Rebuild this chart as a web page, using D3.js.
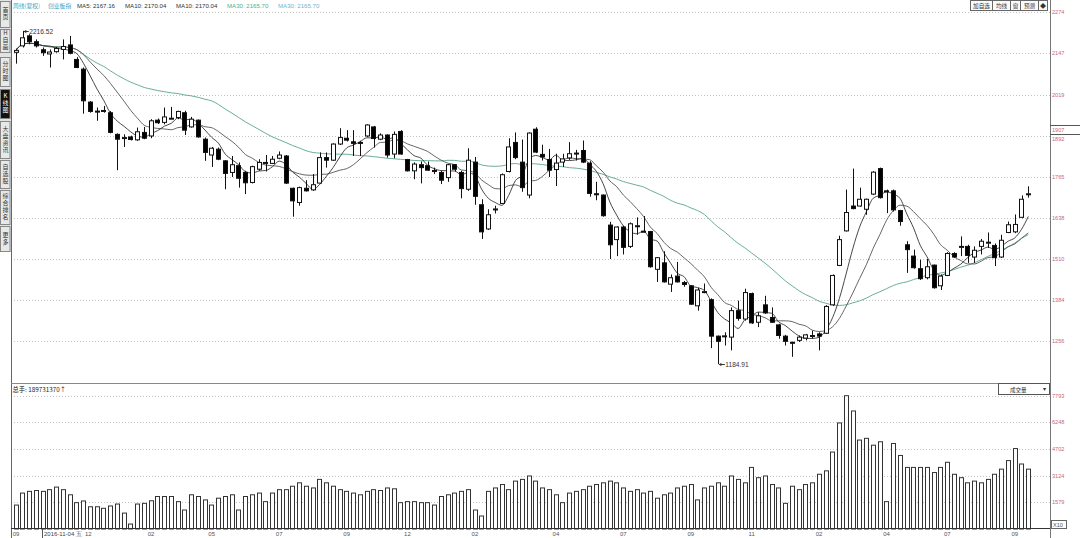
<!DOCTYPE html>
<html><head><meta charset="utf-8">
<script src="https://cdn.jsdelivr.net/npm/d3@7"></script>
<style>body{margin:0;background:#fff;overflow:hidden}svg{display:block}</style>
</head><body>
<svg id="c" width="1080" height="538"></svg>
<script>
const opens  = [2150,2170,2201,2183,2158,2145,2152,2159,2173,2128,2098,1996,1968,1968,1963,1896,1886,1888,1879,1902,1891,1940,1933,1945,1948,1963,1919,1940,1881,1832,1850,1814,1778,1799,1778,1747,1788,1807,1806,1822,1829,1729,1685,1729,1724,1745,1824,1816,1866,1884,1873,1871,1891,1919,1881,1894,1835,1905,1818,1783,1802,1799,1784,1778,1762,1802,1778,1726,1810,1678,1603,1663,1682,1781,1871,1810,1708,1912,1834,1818,1787,1810,1823,1837,1846,1807,1712,1708,1615,1570,1609,1549,1612,1596,1595,1478,1498,1432,1457,1437,1427,1365,1408,1384,1271,1270,1268,1350,1324,1403,1314,1368,1329,1306,1271,1252,1258,1265,1273,1278,1280,1368,1490,1597,1674,1674,1664,1711,1790,1721,1721,1660,1554,1519,1480,1452,1491,1427,1459,1527,1549,1549,1516,1549,1561,1552,1516,1592,1594,1639,1709];
const highs  = [2162,2216.52,2206,2190,2165,2159,2167,2190,2201,2135,2103,1999,1979,1984,1968,1899,1896,1892,1917,1919,1943,1945,1979,1981,1969,1969,1950,1942,1886,1857,1855,1816,1829,1809,1783,1799,1819,1832,1829,1843,1832,1731,1734,1754,1773,1840,1840,1868,1915,1909,1909,1876,1927,1922,1899,1896,1905,1909,1820,1809,1812,1812,1793,1783,1804,1804,1783,1853,1826,1695,1664,1675,1775,1884,1902,1880,1902,1918,1864,1851,1836,1836,1872,1848,1877,1813,1749,1710,1625,1611,1613,1623,1639,1643,1597,1516,1534,1462,1501,1442,1429,1421,1434,1388,1273,1283,1360,1381,1418,1406,1345,1396,1360,1309,1275,1254,1273,1278,1288,1283,1367,1462,1582,1725,1790,1731,1697,1782,1793,1725,1725,1662,1565,1539,1508,1510,1493,1462,1531,1531,1580,1554,1549,1572,1592,1558,1585,1626,1648,1707,1735];
const lows   = [2115,2165,2175,2165,2139,2103,2149,2128,2144,2101,1960,1963,1938,1963,1899,1785,1857,1877,1876,1881,1884,1928,1927,1943,1943,1894,1917,1886,1814,1795,1816,1726,1764,1731,1711,1744,1783,1781,1804,1819,1742,1641,1675,1719,1721,1742,1793,1814,1863,1874,1829,1829,1888,1855,1878,1824,1822,1833,1781,1757,1744,1783,1773,1742,1749,1781,1698,1721,1678,1572,1600,1651,1680,1778,1819,1718,1698,1838,1815,1764,1736,1795,1817,1815,1807,1703,1692,1641,1510,1519,1524,1544,1585,1593,1483,1439,1437,1408,1437,1424,1368,1350,1404,1234,1184.91,1242,1227,1319,1319,1309,1299,1340,1312,1263,1242,1207,1253,1258,1263,1227,1278,1365,1488,1595,1664,1672,1647,1708,1697,1652,1657,1613,1467,1480,1445,1447,1418,1414,1457,1513,1519,1498,1498,1524,1544,1488,1513,1590,1590,1636,1700];
const closes = [2156,2195,2183,2170,2149,2151,2162,2168,2147,2103,2000,1967,1966,1970,1902,1881,1886,1880,1904,1884,1938,1932,1950,1946,1967,1909,1943,1888,1840,1853,1819,1775,1802,1760,1746,1796,1809,1809,1819,1832,1745,1690,1731,1721,1740,1824,1816,1866,1886,1878,1868,1870,1925,1883,1894,1832,1896,1835,1783,1804,1793,1785,1783,1754,1802,1788,1728,1816,1704,1594,1647,1665,1771,1857,1824,1731,1900,1841,1826,1785,1807,1820,1836,1838,1810,1713,1710,1644,1554,1609,1546,1619,1613,1595,1486,1514,1439,1452,1439,1431,1370,1414,1409,1271,1255,1272,1350,1326,1406,1312,1334,1343,1314,1273,1255,1249,1268,1275,1273,1271,1363,1459,1570,1654,1666,1695,1695,1779,1700,1720,1662,1626,1539,1483,1449,1486,1421,1457,1527,1516,1549,1521,1537,1565,1562,1514,1568,1616,1617,1695,1712];
const volumes = [1400,2100,2200,2250,2200,2300,2450,2300,2000,1540,1640,1300,1300,1210,1345,1460,930,290,1460,1500,1650,1900,1900,1900,1600,1110,2000,1900,1700,1400,1800,1900,2000,1110,1900,2000,2100,1600,2100,2300,2300,2500,2700,2500,2400,2900,2700,2500,2300,2200,2100,2000,2200,2300,2250,2400,2350,1540,1600,1600,1540,1540,1400,1900,2000,2100,2200,2300,1110,760,2200,2400,2600,2300,2800,2900,3100,2800,2400,2300,2000,1540,2100,2200,2300,2500,2600,2700,2800,2700,2400,2200,2300,2100,2200,1800,2000,2100,2400,2500,2600,1700,2400,2500,2700,2500,3100,2900,2700,3600,3000,3100,2600,2400,1500,2500,2300,2600,2700,3200,3400,4500,6200,7793,6900,5200,5300,4900,5100,1600,5000,4300,3600,3600,3600,3600,3300,3600,3900,3200,3000,2700,2800,2700,2900,3200,3500,4000,4702,3800,3500];

const priceTicks = [2274,2147,2019,1892,1765,1638,1510,1384,1256];
const volTicks = [7793,6248,4702,3124,1579];
const monthTickIdx = [0,10,20,29,39,49,58,68,80,90,100,109,119,129,138,148];
const monthTickLabels = ["09","12","02","05","07","09","12","02","04","07","09","11","02","04","07","09"];
const sideTabs = ["首页","H自画","分时图","K线图","大盘资讯","自选股","综合排名","更多"];
const headerTexts = ["周线(复权)","创业板指","MA5: 2167.16","MA10: 2170.04","MA10: 2170.04","MA30: 2165.70","MA30: 2165.70"];
const topButtons = ["加自选","均线","窗","预测","◆"];

// layout / style (kept apart from data)
const headerX = [13,48,77,125,176,227,278];
const headerC = ["#3a9fc6","#3a9fc6","#333","#333","#333","#4fae8c","#6ab6d2"];
const tabY = [[1,27],[29,52],[57,86],[89,118],[121,158],[160,188],[190,224],[226,251]];
const btnW = [22,18,10,18,9];

const svg = d3.select("#c");
const W = 1080, H = 538, L = 11, R = 1050;
const x = d3.scaleLinear().domain([0, closes.length-1]).range([16, 1028.3]);
const y = d3.scaleLinear().domain([1256, 2274]).range([341, 12.3]);
const vy = d3.scaleLinear().domain([0, 7793]).range([529, 395.7]);
const fNum = "'Liberation Sans', Arial, sans-serif";
const fCJK = "'Noto Sans CJK SC', sans-serif";
const bw = 4.6;
const axisRed = "#c8687e";

// gridlines
svg.append("g").selectAll("line").data(priceTicks).join("line")
  .attr("x1", L).attr("x2", R).attr("y1", d=>Math.round(y(d))+0.5).attr("y2", d=>Math.round(y(d))+0.5)
  .attr("stroke", "#c4c4c4").attr("stroke-dasharray", "1 2");
svg.append("g").selectAll("line").data(volTicks).join("line")
  .attr("x1", L).attr("x2", R).attr("y1", d=>Math.round(vy(d))+0.5).attr("y2", d=>Math.round(vy(d))+0.5)
  .attr("stroke", "#c4c4c4").attr("stroke-dasharray", "1 2");

// moving averages
const idx = d3.range(closes.length);
function ma(n){ return idx.map(i => d3.mean(closes.slice(Math.max(0,i-n+1), i+1))); }
const maSpecs = [{n:30,c:"#6aae98",w:1},{n:10,c:"#555",w:0.9},{n:5,c:"#333",w:0.9}];
const lineGen = d3.line().x((d,i)=>x(i)).y(d=>y(d)).curve(d3.curveMonotoneX);
maSpecs.forEach(s=>{
  svg.append("path").datum(ma(s.n)).attr("d", lineGen).attr("fill","none")
    .attr("stroke", s.c).attr("stroke-width", s.w);
});

// candles
const cg = svg.append("g");
idx.forEach(i=>{
  const o=opens[i], c=closes[i], h=highs[i], l=lows[i];
  const up = c >= o;
  const cx = Math.round(x(i)) + 0.5;
  cg.append("line").attr("x1",cx).attr("x2",cx).attr("y1",y(h)).attr("y2",y(l))
    .attr("stroke","#111").attr("stroke-width",1);
  const top = y(Math.max(o,c)), bot = y(Math.min(o,c));
  cg.append("rect").attr("x", Math.round(x(i)-bw/2)+0.5).attr("y", top)
    .attr("width", bw-0.6).attr("height", Math.max(1, bot-top))
    .attr("fill", up ? "#fff" : "#000").attr("stroke","#111").attr("stroke-width",1);
});

// volume bars
svg.append("g").selectAll("rect").data(volumes).join("rect")
  .attr("x",(d,i)=>Math.round(x(i)-bw/2)+0.5).attr("y",d=>vy(d))
  .attr("width",bw-0.6).attr("height",d=>vy(0)-vy(d))
  .attr("fill","#fff").attr("stroke","#333").attr("stroke-width",1);

// high / low annotations
const hiI = highs.indexOf(d3.max(highs)), loI = lows.indexOf(d3.min(lows));
function annot(i, v, len){
  const yy = Math.round(y(v))+0.5;
  svg.append("line").attr("x1",x(i)+1).attr("x2",x(i)+len).attr("y1",yy).attr("y2",yy).attr("stroke","#333");
  svg.append("path").attr("d",`M${x(i)+1},${yy} l2.5,-1.8 l0,3.6 z`).attr("fill","#333");
  svg.append("text").attr("x",x(i)+len+0.5).attr("y",yy+2.3).text(d3.format(".2f")(v))
    .attr("font-family",fNum).attr("font-size",6.6).attr("fill","#333");
}
annot(hiI, highs[hiI], 6);
annot(loI, lows[loI], 7);

// frame lines
svg.append("line").attr("x1",L+0.5).attr("x2",L+0.5).attr("y1",0).attr("y2",H).attr("stroke","#666");
svg.append("line").attr("x1",R+0.5).attr("x2",R+0.5).attr("y1",0).attr("y2",H).attr("stroke","#777");
svg.append("line").attr("x1",L).attr("x2",R).attr("y1",383.5).attr("y2",383.5).attr("stroke","#888");
svg.append("line").attr("x1",L).attr("x2",R).attr("y1",528.5).attr("y2",528.5).attr("stroke","#333");

// right price labels
svg.append("g").selectAll("text").data(priceTicks).join("text")
  .attr("x",1052).attr("y",d=> d===1892 ? y(d)+5.5 : y(d)+2).text(d=>d)
  .attr("font-family",fNum).attr("font-size",5.6).attr("fill",axisRed);
// 1907 marker
svg.append("rect").attr("x",R+1).attr("y",125).attr("width",W-R).attr("height",9).attr("fill","#fff");
svg.append("line").attr("x1",R).attr("x2",W).attr("y1",125.5).attr("y2",125.5).attr("stroke","#555");
svg.append("line").attr("x1",R).attr("x2",W).attr("y1",134.5).attr("y2",134.5).attr("stroke","#555");
svg.append("text").attr("x",1052).attr("y",131.5).text("1907").attr("font-family",fNum).attr("font-size",5.6).attr("fill",axisRed);

// volume labels
svg.append("g").selectAll("text").data(volTicks).join("text")
  .attr("x",1052).attr("y",d=>vy(d)+2).text(d=>d)
  .attr("font-family",fNum).attr("font-size",5.6).attr("fill",axisRed);
svg.append("rect").attr("x",1051.5).attr("y",520.5).attr("width",15).attr("height",8).attr("fill","#fff").attr("stroke","#666");
svg.append("text").attr("x",1053).attr("y",527).text("X10").attr("font-family",fNum).attr("font-size",5.6).attr("fill","#555");

// month labels
svg.append("g").selectAll("text").data(monthTickIdx).join("text")
  .attr("x",(d,i)=> i===1 ? 85 : x(d)).attr("y",535.5)
  .attr("text-anchor",(d,i)=> i===1 ? "start" : "middle").text((d,i)=>monthTickLabels[i])
  .attr("font-family",fNum).attr("font-size",6).attr("fill","#555");
// cursor date box
svg.append("line").attr("x1",42.5).attr("x2",42.5).attr("y1",529).attr("y2",538).attr("stroke","#555");
svg.append("text").attr("x",44).attr("y",535.5).text("2016-11-04 五").attr("font-family",fNum).attr("font-size",6).attr("fill","#444");

// volume header
svg.append("text").attr("x",12.5).attr("y",392).text("总手: 189731370↑").attr("font-family",fCJK).attr("font-size",6.3).attr("fill","#222");
svg.append("rect").attr("x",998.5).attr("y",383.5).attr("width",51).attr("height",11).attr("fill","#fff").attr("stroke","#555");
svg.append("text").attr("x",1010).attr("y",391.5).text("成交量").attr("font-family",fCJK).attr("font-size",5.5).attr("fill","#333");
svg.append("text").attr("x",1043).attr("y",391).text("▾").attr("font-family",fNum).attr("font-size",6).attr("fill","#333");

// header text
svg.append("g").selectAll("text").data(headerTexts).join("text")
  .attr("x",(d,i)=>headerX[i]).attr("y",7.5).text(d=>d)
  .attr("font-family",(d,i)=> i<2 ? fCJK : fNum).attr("font-size",(d,i)=> i<2 ? 5.8 : 6.1)
  .attr("fill",(d,i)=>headerC[i]);

// top right buttons
let bx = 970.5;
topButtons.forEach((b,k)=>{
  svg.append("rect").attr("x",bx).attr("y",0.5).attr("width",btnW[k]).attr("height",10).attr("fill","#fafafa").attr("stroke","#666");
  svg.append("text").attr("x",bx+btnW[k]/2).attr("y",7.5).attr("text-anchor","middle").text(b)
    .attr("font-family",fCJK).attr("font-size",k===4?6:5.6).attr("fill","#333");
  bx += btnW[k];
});

// left sidebar
svg.append("rect").attr("x",0).attr("y",0).attr("width",L).attr("height",252).attr("fill","#e2e2e2");
sideTabs.forEach((t,k)=>{
  const [a,b] = tabY[k];
  const active = t==="K线图";
  svg.append("rect").attr("x",0.5).attr("y",a+0.5).attr("width",L-1.5).attr("height",b-a)
    .attr("fill",active?"#111":"#e8e8e8").attr("stroke","#888");
  svg.append("text").attr("x",5.5).attr("y",(a+b)/2).attr("text-anchor","middle")
    .style("writing-mode","vertical-rl").style("text-orientation","upright")
    .attr("font-family",fCJK).attr("font-size",6).attr("letter-spacing",1)
    .attr("fill",active?"#fff":"#333").text(t);
});
</script>
</body></html>
